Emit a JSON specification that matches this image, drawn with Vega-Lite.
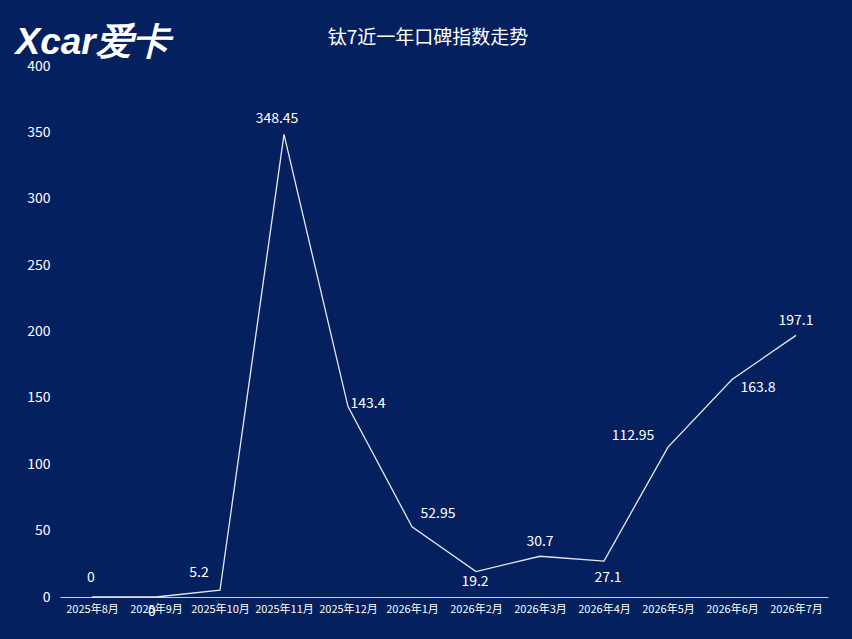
{
  "$schema": "https://vega.github.io/schema/vega-lite/v6.json",
  "autosize": "none",
  "width": 768,
  "height": 531,
  "padding": {"left": 60, "top": 66, "right": 24, "bottom": 42},
  "background": "#04205f",
  "title": {"text": "钛7近一年口碑指数走势", "color": "#ffffff", "fontSize": 19, "fontWeight": "normal", "font": "Noto Sans CJK SC", "anchor": "middle", "dx": -16, "offset": -25},
  "config": {"view": {"stroke": null}, "font": "Noto Sans CJK SC"},
  "data": {"values": [
    {"month": "2025年8月", "value": 0},
    {"month": "2025年9月", "value": 0},
    {"month": "2025年10月", "value": 5.2},
    {"month": "2025年11月", "value": 348.45},
    {"month": "2025年12月", "value": 143.4},
    {"month": "2026年1月", "value": 52.95},
    {"month": "2026年2月", "value": 19.2},
    {"month": "2026年3月", "value": 30.7},
    {"month": "2026年4月", "value": 27.1},
    {"month": "2026年5月", "value": 112.95},
    {"month": "2026年6月", "value": 163.8},
    {"month": "2026年7月", "value": 197.1}
  ]},
  "encoding": {
    "x": {"field": "month", "type": "ordinal", "sort": null,
      "scale": {"paddingInner": 0, "paddingOuter": 0},
      "axis": {"title": null, "labelAngle": 0, "labelColor": "#ffffff", "labelFontSize": 11, "labelPadding": 6, "ticks": false, "domainColor": "#c8d0e0", "domainWidth": 1, "labelFont": "Noto Sans CJK SC"}},
    "y": {"field": "value", "type": "quantitative",
      "scale": {"domain": [0, 400]},
      "axis": {"values": [0, 50, 100, 150, 200, 250, 300, 350, 400], "labelColor": "#ffffff", "labelFontSize": 14, "labelPadding": 10, "ticks": false, "domain": false, "grid": false,
        "title": "Xcar爱卡", "titleAngle": 0, "titleX": -45, "titleY": -24, "titleAlign": "left", "titleBaseline": "middle", "titleColor": "#ffffff", "titleFontSize": 37, "titleFontStyle": "italic", "titleFontWeight": "bold", "titleFont": "Liberation Sans"}}
  },
  "layer": [
    {"mark": {"type": "line", "color": "#e6e9f0", "strokeWidth": 1.3}},
    {"transform": [{"filter": {"field": "month", "oneOf": ["2025年8月"]}}],
     "mark": {"type": "text", "color": "#ffffff", "fontSize": 14, "dy": -19, "dx": -1}, "encoding": {"text": {"field": "value"}}},
    {"transform": [{"filter": {"field": "month", "oneOf": ["2025年11月"]}}],
     "mark": {"type": "text", "color": "#ffffff", "fontSize": 14, "dy": -15, "dx": -7}, "encoding": {"text": {"field": "value"}}},
    {"transform": [{"filter": {"field": "month", "oneOf": ["2026年3月", "2026年7月"]}}],
     "mark": {"type": "text", "color": "#ffffff", "fontSize": 14, "dy": -14, "dx": 0}, "encoding": {"text": {"field": "value"}}},
    {"transform": [{"filter": {"field": "month", "oneOf": ["2025年10月"]}}],
     "mark": {"type": "text", "color": "#ffffff", "fontSize": 14, "dy": -17, "dx": -21}, "encoding": {"text": {"field": "value"}}},
    {"transform": [{"filter": {"field": "month", "oneOf": ["2026年1月"]}}],
     "mark": {"type": "text", "color": "#ffffff", "fontSize": 14, "dy": -13, "dx": 26}, "encoding": {"text": {"field": "value"}}},
    {"transform": [{"filter": {"field": "month", "oneOf": ["2025年12月"]}}],
     "mark": {"type": "text", "color": "#ffffff", "fontSize": 14, "dy": -3, "dx": 20}, "encoding": {"text": {"field": "value"}}},
    {"transform": [{"filter": {"field": "month", "oneOf": ["2025年9月"]}}],
     "mark": {"type": "text", "color": "#ffffff", "fontSize": 14, "dy": 15, "dx": -4}, "encoding": {"text": {"field": "value"}}},
    {"transform": [{"filter": {"field": "month", "oneOf": ["2026年2月"]}}],
     "mark": {"type": "text", "color": "#ffffff", "fontSize": 14, "dy": 10, "dx": -1}, "encoding": {"text": {"field": "value"}}},
    {"transform": [{"filter": {"field": "month", "oneOf": ["2026年4月"]}}],
     "mark": {"type": "text", "color": "#ffffff", "fontSize": 14, "dy": 17, "dx": 4}, "encoding": {"text": {"field": "value"}}},
    {"transform": [{"filter": {"field": "month", "oneOf": ["2026年5月"]}}],
     "mark": {"type": "text", "color": "#ffffff", "fontSize": 14, "dy": -11, "dx": -35}, "encoding": {"text": {"field": "value"}}},
    {"transform": [{"filter": {"field": "month", "oneOf": ["2026年6月"]}}],
     "mark": {"type": "text", "color": "#ffffff", "fontSize": 14, "dy": 8, "dx": 26}, "encoding": {"text": {"field": "value"}}}
  ]
}
